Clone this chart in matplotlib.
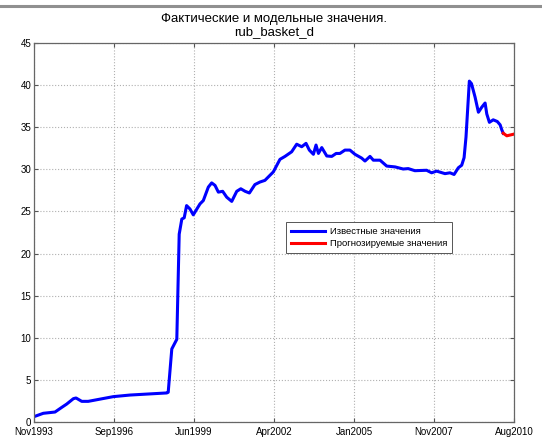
import matplotlib
matplotlib.use('Agg')
import matplotlib.pyplot as plt
from matplotlib.lines import Line2D
import numpy as np

plt.rcParams['font.family'] = ['Liberation Sans', 'DejaVu Sans']

# Данные: месяцы от Nov1993 (0) до Aug2010 (201)
known_months = [0, 3.9, 8.8, 11.6, 13.7, 16.5, 17.6, 20.0, 22.7, 33.2, 40.2, 55.6, 56.2,
                57.7, 59.8, 60.8, 61.9, 62.9, 63.9, 65.3, 66.7, 69.5, 70.9, 73.0, 74.4,
                75.8, 77.2, 79.0, 80.7, 82.8, 84.9, 86.6, 88.4, 90.2, 92.5, 94.6, 96.7,
                98.1, 100.2, 103.0, 105.1, 107.9, 110.0, 112.1, 113.9, 115.3, 117.0,
                118.1, 119.1, 120.5, 122.6, 124.7, 126.5, 128.1, 130.2, 132.3, 134.4,
                137.2, 138.6, 140.7, 142.1, 144.9, 147.7, 151.2, 154.6, 156.7, 159.5,
                164.4, 166.5, 168.6, 172.1, 174.2, 175.9, 177.7, 179.1, 180.1, 180.9,
                181.9, 182.3, 183.2, 184.7, 186.1, 187.5, 188.9, 189.6, 190.7, 192.3,
                194.0, 195.2, 195.9, 196.5]
known_values = [0.6, 1.0, 1.15, 1.7, 2.1, 2.74, 2.82, 2.42, 2.42, 2.98, 3.17, 3.42, 3.5,
                8.65, 9.8, 22.3, 24.1, 24.25, 25.7, 25.3, 24.6, 25.9, 26.3, 27.9, 28.4,
                28.1, 27.3, 27.4, 26.7, 26.2, 27.4, 27.7, 27.4, 27.2, 28.2, 28.5, 28.7,
                29.1, 29.7, 31.2, 31.55, 32.1, 33.0, 32.7, 33.1, 32.3, 31.8,
                32.9, 31.9, 32.6, 31.6, 31.55, 31.9, 31.9, 32.3, 32.3, 31.8,
                31.35, 31.0, 31.55, 31.1, 31.1, 30.4, 30.3, 30.05, 30.1, 29.85,
                29.9, 29.6, 29.8, 29.5, 29.6, 29.4, 30.2, 30.5, 31.4, 33.85,
                38.6, 40.5, 40.2, 38.6, 36.8, 37.4, 37.9, 36.6, 35.6, 35.9,
                35.7, 35.3, 34.7, 34.3]

forecast_months = [196.5, 198.0, 199.5, 201.0]
forecast_values = [34.3, 34.0, 34.1, 34.2]

tick_labels = ['Nov1993', 'Sep1996', 'Jun1999', 'Apr2002', 'Jan2005', 'Nov2007', 'Aug2010']

fig = plt.figure(figsize=(5.42, 4.37), dpi=100)
ax = fig.add_axes([34/542, 1 - 421.7/437, 480/542, 378.4/437])

ax.plot(known_months, known_values, color='#0000ff', lw=2.2, label='Известные значения')
ax.plot(forecast_months, forecast_values, color='#ff0000', lw=2.2, label='Прогнозируемые значения')

ax.set_xlim(0, 201)
ax.set_ylim(0, 45)
ax.set_xticks(np.linspace(0, 201, 7))
ax.set_xticklabels(tick_labels)
ax.set_yticks(range(0, 46, 5))
ax.tick_params(direction='in', length=3, labelsize=7, color='#555555', pad=2,
               top=True, right=True)
ax.tick_params(axis='x', pad=3.5)
ax.grid(True, linestyle=':', color='#b0b0b0', linewidth=0.8)
for s in ax.spines.values():
    s.set_color('#666666')
    s.set_linewidth(0.9)

ax.set_title('Фактические и модельные значения.\nrub_basket_d', fontsize=9.5,
             pad=6, linespacing=1.1)

leg = ax.legend(loc='upper left', bbox_to_anchor=(0.526, 0.527), fontsize=6.8,
                fancybox=False, framealpha=1, edgecolor='#555555', handlelength=3.6,
                borderpad=0.5, labelspacing=0.3, handletextpad=0.5, borderaxespad=0)
leg.get_frame().set_linewidth(0.7)

# серая полоса сверху
fig.add_artist(Line2D([0, 1], [1 - 6/437, 1 - 6/437], color='#909090', lw=2.2,
                      transform=fig.transFigure))

plt.savefig('out.png', dpi=100)
